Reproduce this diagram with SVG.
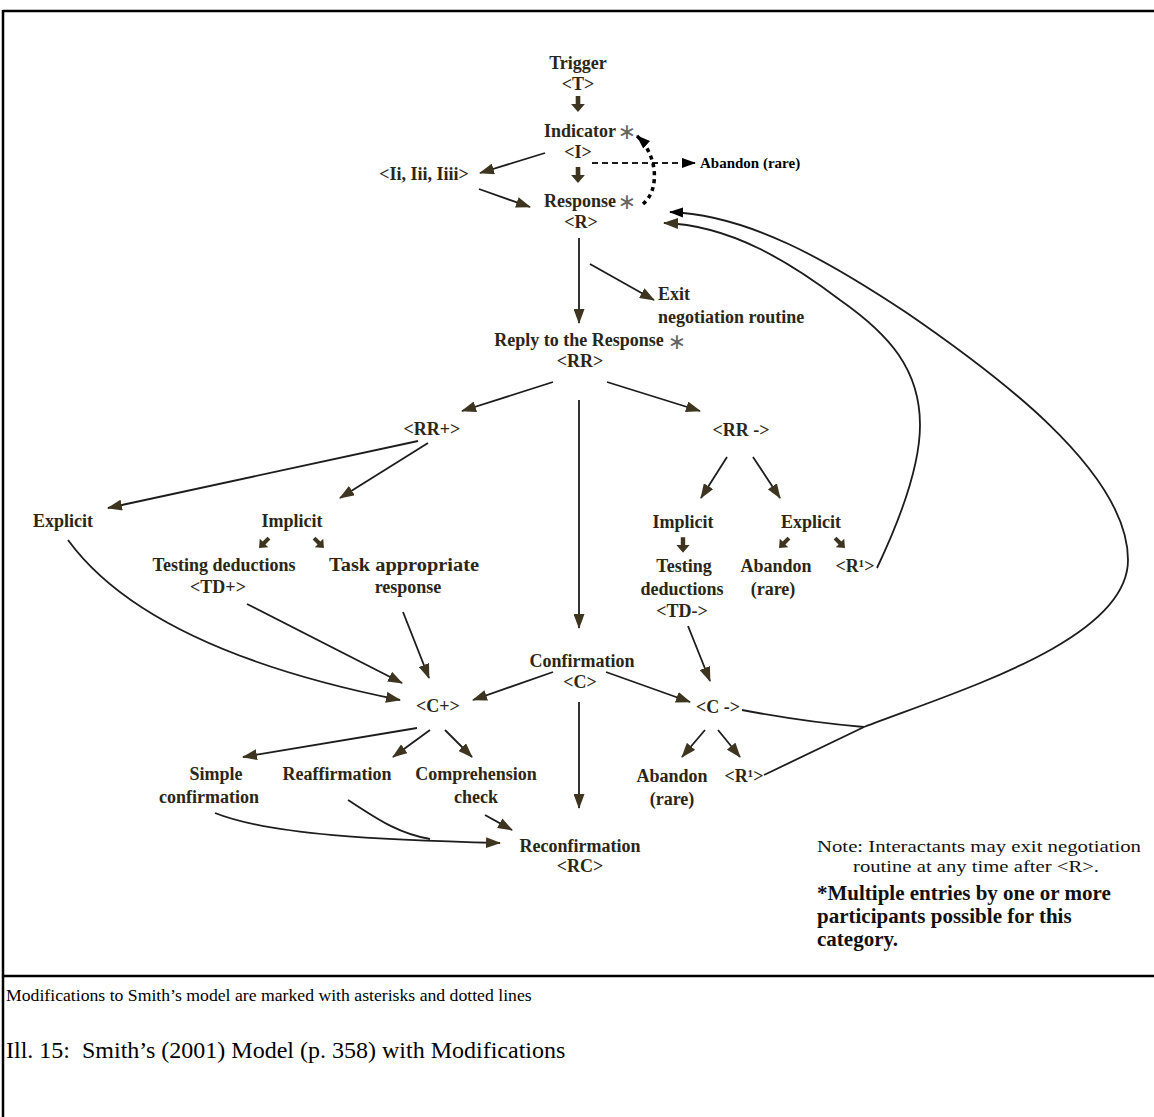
<svg xmlns="http://www.w3.org/2000/svg" width="1154" height="1117" viewBox="0 0 1154 1117">
<style>
.lb{font-family:"Liberation Serif","Times New Roman",serif;font-weight:bold;font-size:18px;fill:#2b2616;text-anchor:middle}
.st{font-family:"DejaVu Sans",sans-serif;font-size:22px;fill:#666;text-anchor:middle}
.ln{fill:none;stroke:#1c1c1c;stroke-width:1.8}
.ar{marker-end:url(#ah)}
.ab{marker-end:url(#ahb)}
.blk{fill:#3d3520}
.nt{font-family:"Liberation Serif","Times New Roman",serif;font-size:16px;fill:#111}
.nb{font-family:"Liberation Serif","Times New Roman",serif;font-weight:bold;font-size:21px;fill:#111}
.cap{font-family:"Liberation Serif","Times New Roman",serif;fill:#000}
</style>
<defs>
<marker id="ah" viewBox="0 0 15 11" refX="14" refY="5.5" markerWidth="15" markerHeight="11" markerUnits="userSpaceOnUse" orient="auto"><path d="M0,0 L15,5.5 L0,11 z" fill="#3d3520"/></marker>
<marker id="ahb" viewBox="0 0 15 11" refX="14" refY="5.5" markerWidth="14" markerHeight="11" markerUnits="userSpaceOnUse" orient="auto"><path d="M0,0 L15,5.5 L0,11 z" fill="#000"/></marker>
<path id="sa" d="M-2,-7 L2,-7 L2,0 L6,0 L0,7 L-6,0 L-2,0 z"/>
</defs>

<g id="frame" stroke="#000" stroke-width="2.5">
<line x1="3" y1="11" x2="1154" y2="11"/>
<line x1="3" y1="10" x2="3" y2="1117"/>
<line x1="3" y1="976" x2="1154" y2="976"/>
</g>

<g id="connectors">
<use href="#sa" class="blk" transform="translate(578,104) scale(1.15)"/>
<use href="#sa" class="blk" transform="translate(578,175) scale(1.15)"/>
<line class="ln ar" x1="545" y1="153" x2="480" y2="173"/>
<line class="ln ar" x1="479" y1="189" x2="530" y2="207"/>
<line class="ln ab" x1="592" y1="163" x2="695" y2="163" stroke-dasharray="6 4"/>
<path class="ab" d="M643,204 C660,190 658,155 637,136" fill="none" stroke="#000" stroke-width="3.5" stroke-dasharray="4 4"/>
<line class="ln ar" x1="579" y1="238" x2="579" y2="323"/>
<line class="ln ar" x1="590" y1="264" x2="654" y2="300"/>
<line class="ln ar" x1="553" y1="382" x2="462" y2="411"/>
<line class="ln ar" x1="607" y1="382" x2="700" y2="411"/>
<line class="ln ar" x1="579" y1="400" x2="579" y2="628"/>
<line class="ln ar" x1="418" y1="441" x2="108" y2="508"/>
<line class="ln ar" x1="428" y1="443" x2="340" y2="498"/>
<use href="#sa" class="blk" transform="translate(264,543) rotate(45)"/>
<use href="#sa" class="blk" transform="translate(319,543) rotate(-45)"/>
<path class="ln ar" d="M68,540 C130,625 260,672 400,700"/>
<line class="ln ar" x1="247" y1="604" x2="402" y2="683"/>
<line class="ln ar" x1="403" y1="612" x2="429" y2="678"/>
<line class="ln ar" x1="727" y1="457" x2="701" y2="498"/>
<line class="ln ar" x1="753" y1="457" x2="780" y2="498"/>
<use href="#sa" class="blk" transform="translate(683,545) scale(1.1)"/>
<use href="#sa" class="blk" transform="translate(784,543) rotate(45)"/>
<use href="#sa" class="blk" transform="translate(840,543) rotate(-45)"/>
<line class="ln ar" x1="688" y1="626" x2="710" y2="681"/>
<line class="ln ar" x1="553" y1="672" x2="473" y2="700"/>
<line class="ln ar" x1="606" y1="672" x2="690" y2="702"/>
<line class="ln ar" x1="579" y1="702" x2="579" y2="808"/>
<line class="ln ar" x1="417" y1="728" x2="243" y2="757"/>
<line class="ln ar" x1="430" y1="730" x2="393" y2="757"/>
<line class="ln ar" x1="445" y1="730" x2="472" y2="757"/>
<path class="ln ar" d="M215,813 C270,835 380,840 500,843"/>
<path class="ln" d="M348,800 C372,815 395,833 430,839"/>
<line class="ln ar" x1="485" y1="815" x2="512" y2="830"/>
<line class="ln ar" x1="705" y1="730" x2="682" y2="757"/>
<line class="ln ar" x1="718" y1="730" x2="740" y2="757"/>
<path class="ln" d="M742,710 Q805,722 864,727"/>
<line class="ln" x1="764" y1="775" x2="864" y2="727"/>
<path class="ln ab" d="M864,727 C960,690 1128,640 1128,560 C1128,470 990,370 907,313 C830,262 750,215 670,212"/>
<path class="ln ar" d="M877,568 C895,530 920,470 920,425 C920,370 890,335 840,300 C790,262 730,225 664,223"/>
</g>

<g id="trigger"><text class="lb" x="578" y="69">Trigger</text><text class="lb" x="578" y="90">&lt;T&gt;</text></g>
<g id="indicator"><text class="lb" x="580" y="137">Indicator</text><text class="st" x="627" y="139">∗</text><text class="lb" x="578" y="158">&lt;I&gt;</text></g>
<g id="indicator-types"><text class="lb" x="424" y="180">&lt;Ii, Iii, Iiii&gt;</text></g>
<g id="abandon-top"><text x="700" y="168" style="font-family:'Liberation Serif',serif;font-weight:bold;font-size:15px;fill:#000">Abandon (rare)</text></g>
<g id="response"><text class="lb" x="580" y="207">Response</text><text class="st" x="627" y="209">∗</text><text class="lb" x="581" y="228">&lt;R&gt;</text></g>
<g id="exit"><text class="lb" x="658" y="300" style="text-anchor:start">Exit</text><text class="lb" x="658" y="323" style="text-anchor:start">negotiation routine</text></g>
<g id="reply"><text class="lb" x="579" y="346">Reply to the Response</text><text class="st" x="677" y="349">∗</text><text class="lb" x="580" y="367">&lt;RR&gt;</text></g>
<g id="rr-plus"><text class="lb" x="432" y="435">&lt;RR+&gt;</text></g>
<g id="rr-minus"><text class="lb" x="741" y="436">&lt;RR -&gt;</text></g>
<g id="explicit-left"><text class="lb" x="63" y="527">Explicit</text></g>
<g id="implicit-left"><text class="lb" x="292" y="527">Implicit</text></g>
<g id="testing-plus"><text class="lb" x="224" y="571">Testing deductions</text><text class="lb" x="218" y="593">&lt;TD+&gt;</text></g>
<g id="task"><text class="lb" x="404" y="571" textLength="150" lengthAdjust="spacingAndGlyphs">Task appropriate</text><text class="lb" x="408" y="593">response</text></g>
<g id="implicit-right"><text class="lb" x="683" y="528">Implicit</text></g>
<g id="testing-minus"><text class="lb" x="684" y="572">Testing</text><text class="lb" x="682" y="595">deductions</text><text class="lb" x="682" y="617">&lt;TD-&gt;</text></g>
<g id="explicit-right"><text class="lb" x="811" y="528">Explicit</text></g>
<g id="abandon-right"><text class="lb" x="776" y="572">Abandon</text><text class="lb" x="773" y="595">(rare)</text></g>
<g id="r1"><text class="lb" x="855" y="572">&lt;R¹&gt;</text></g>
<g id="confirmation"><text class="lb" x="582" y="667">Confirmation</text><text class="lb" x="580" y="688">&lt;C&gt;</text></g>
<g id="c-plus"><text class="lb" x="438" y="712">&lt;C+&gt;</text></g>
<g id="c-minus"><text class="lb" x="718" y="713">&lt;C -&gt;</text></g>
<g id="abandon-bottom"><text class="lb" x="672" y="782">Abandon</text><text class="lb" x="672" y="805">(rare)</text></g>
<g id="r2"><text class="lb" x="744" y="782">&lt;R¹&gt;</text></g>
<g id="simple"><text class="lb" x="216" y="780">Simple</text><text class="lb" x="209" y="803">confirmation</text></g>
<g id="reaffirmation"><text class="lb" x="337" y="780">Reaffirmation</text></g>
<g id="comprehension"><text class="lb" x="476" y="780">Comprehension</text><text class="lb" x="476" y="803">check</text></g>
<g id="reconfirmation"><text class="lb" x="580" y="852">Reconfirmation</text><text class="lb" x="580" y="872">&lt;RC&gt;</text></g>

<g id="notes">
<text class="nt" x="817" y="852" textLength="324" lengthAdjust="spacingAndGlyphs">Note: Interactants may exit negotiation</text>
<text class="nt" x="853" y="872" textLength="246" lengthAdjust="spacingAndGlyphs">routine at any time after &lt;R&gt;.</text>
<text class="nb" x="817" y="900">*Multiple entries by one or more</text>
<text class="nb" x="817" y="923">participants possible for this</text>
<text class="nb" x="817" y="946">category.</text>
</g>

<g id="captions">
<text class="cap" x="6" y="1001" style="font-size:17.7px">Modifications to Smith’s model are marked with asterisks and dotted lines</text>
<text class="cap" x="6" y="1058" style="font-size:24px">Ill. 15:&#160; Smith’s (2001) Model (p. 358) with Modifications</text>
</g>
</svg>
